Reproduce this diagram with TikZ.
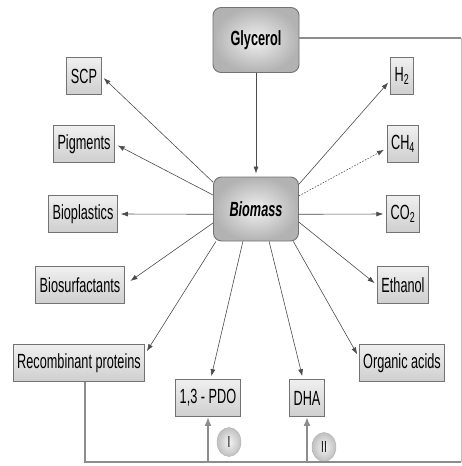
\documentclass[tikz,border=0pt]{standalone}
\usepackage{fontspec}
\setmainfont[FakeStretch=0.62]{Liberation Sans}
\usetikzlibrary{arrows.meta,shapes.geometric}
\begin{document}
\begin{tikzpicture}[x=1pt, y=-1pt,
        prod/.style = {draw = black!55, top color = gray!12, bottom color = gray!38, line width = 0.9pt,
            inner xsep = 4pt, minimum height = 37pt, font = \fontsize{20.5}{23}\selectfont},
        hub/.style = {draw = black!55, rounded corners = 8pt, line width = 0.9pt, shading = radial,
            inner color = gray!12, outer color = gray!60, minimum width = 86pt, minimum height = 65pt,
            font = \fontsize{20.5}{23}\selectfont\bfseries},
        arr/.style = {-{Latex[length=7pt, width=5pt]}, black!70, line width = 0.6pt, shorten > = 3pt},
        back/.style = {black!45, line width = 2.8pt},
        tag/.style = {draw = gray!60, ellipse, shading = radial, inner color = gray!8, outer color = gray!50,
            minimum width = 24pt, minimum height = 29pt, inner sep = 0pt, font = \fontsize{16}{18}\selectfont}]
        \useasboundingbox (0, 0) rectangle (462, 466);

        \node[hub] (gly) at (256, 40) {Glycerol};
        \node[hub, minimum width = 85pt, minimum height = 64pt] (bio) at (256, 209) {\itshape Biomass};

        \node[prod] (scp) at (84, 76) {SCP};
        \node[prod] (pig) at (84, 144) {Pigments};
        \node[prod] (bpl) at (83, 214) {Bioplastics};
        \node[prod] (bsf) at (80, 285) {Biosurfactants};
        \node[prod] (rpr) at (79, 363) {Recombinant proteins};
        \node[prod] (pdo) at (208, 398) {1,3 - PDO};
        \node[prod] (dha) at (307, 398) {DHA};
        \node[prod] (h2) at (402, 76) {H\textsubscript{2}};
        \node[prod] (ch4) at (403, 144) {CH\textsubscript{4}};
        \node[prod] (co2) at (403, 214) {CO\textsubscript{2}};
        \node[prod] (eth) at (403, 285) {Ethanol};
        \node[prod] (oac) at (402, 363) {Organic acids};

        \node[tag] (t1) at (229, 442) {I};
        \node[tag] (t2) at (324, 447) {II};

        \draw[arr] (gly) -- (bio);

        \draw[arr] (bio.148) -- (scp.east);
        \draw[arr] (bio.162) -- (pig.east);
        \draw[arr] (bio.187) -- (bpl.east);
        \draw[arr, shorten > = 7pt] (bio.198) -- (bsf.east);
        \draw[arr] (bio.219) -- (rpr.8);
        \draw[arr] (bio.248) -- (pdo.82);
        \draw[arr] (bio.292) -- (dha.102);
        \draw[arr] (bio.319) -- (oac.172);
        \draw[arr] (bio.343) -- (eth.west);
        \draw[arr] (bio.353) -- (co2.west);
        \draw[arr, dashed, dash pattern = on 1.5pt off 1.5pt] (bio.17) -- (ch4.195);
        \draw[arr] (bio.30) -- (h2.200);

        % feedback loop
        \coordinate (tr) at (461, 38);
        \coordinate (br) at (461, 462);
        \coordinate (bl) at (85, 462);
        \draw[back] (gly.east |- tr) -- (tr);
        \draw[gray!50, line width = 0.8pt] (tr) -- (br);
        \draw[back] (br) -- (bl) -- (rpr.south -| bl);
        \draw[back, -{Latex[length=9pt, width=7pt]}] (pdo.south |- bl) -- (pdo.south);
        \draw[back, -{Latex[length=9pt, width=7pt]}] (dha.south |- bl) -- (dha.south);
    \end{tikzpicture}
\end{document}
